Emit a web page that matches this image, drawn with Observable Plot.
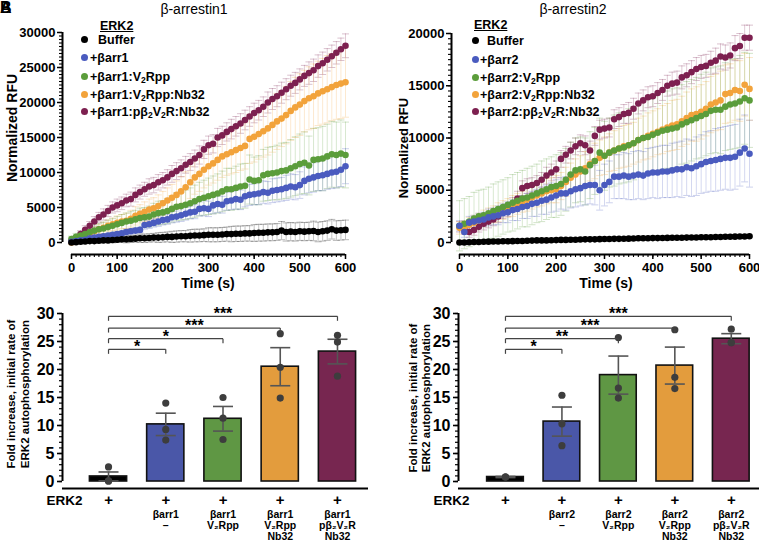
<!DOCTYPE html>
<html><head><meta charset="utf-8">
<script src="https://cdn.jsdelivr.net/npm/d3@7"></script>
<script src="https://cdn.jsdelivr.net/npm/@observablehq/plot@0.6"></script>
<style>
body{margin:0;background:#fff;}
#fig{position:relative;width:759px;height:542px;overflow:hidden;font-family:"Liberation Sans",Arial,sans-serif;color:#000;background:#fff;}
.abs{position:absolute;white-space:nowrap;}
.leg{position:absolute;font-weight:bold;font-size:12.5px;line-height:14px;white-space:nowrap;transform:translateY(-50%);}
.leg .d{display:inline-block;width:7px;height:7px;border-radius:50%;margin-right:3px;vertical-align:1px;}
.leg sub, .abs sub{font-size:8.5px;vertical-align:-2px;line-height:0;}
.rot{position:absolute;white-space:nowrap;font-weight:bold;text-align:center;transform:translate(-50%,-50%) rotate(-90deg);}
</style>
</head><body>
<div id="fig"></div>
<script>
// ---------- time axis (s) ----------
const times = [0,10,20,30,40,50,60,70,80,90,100,110,120,130,140,150,160,170,180,190,200,210,220,230,240,250,260,270,280,290,300,310,320,330,340,350,360,370,380,390,400,410,420,430,440,450,460,470,480,490,500,510,520,530,540,550,560,570,580,590,600];

const seriesNames = ["Buffer","barr","barr:V2Rpp","barr:V2Rpp:Nb32","barr:pb2V2R:Nb32"];
const seriesColors = ["#000000","#4a5bbf","#5b9d3b","#f2a33b","#7d2050"];

// ---------- β-arrestin1 time courses (thousand RFU) ----------
const a1Buffer = [0.0,0.05,0.1,0.15,0.2,0.2,0.25,0.3,0.3,0.35, 0.4,0.45,0.45,0.5,0.55,0.6,0.6,0.65,0.7,0.7, 0.75,0.8,0.8,0.85,0.9,0.9,0.95,1.0,1.0,1.05, 1.1,1.1,1.1,1.15,1.2,1.2,1.25,1.25,1.3,1.3, 1.35,1.4,1.4,1.45,1.45,1.5,1.7,1.5,1.55,1.5, 1.6,1.55,1.6,1.65,1.5,1.6,1.7,1.9,1.7,1.75, 1.8];
const a1Barr = [0.1,0.2,0.3,0.4,0.6,0.7,0.8,0.9,1.0,1.1, 1.2,1.3,1.5,1.6,1.7,1.8,2.5,2.6,2.8,3.0, 3.2,3.3,3.6,3.7,3.9,4.1,4.3,4.4,4.8,4.9, 4.8,5.3,5.5,5.4,5.9,6.0,6.2,6.1,6.6,6.8, 6.9,7.0,7.2,7.1,7.4,7.5,7.6,7.8,8.0,7.9, 8.2,8.8,9.1,9.3,9.5,9.6,9.8,10.0,10.1,10.4, 10.9];
const a1V2Rpp = [0.5,0.8,1.0,1.2,1.5,1.7,1.9,2.0,2.2,2.4, 2.6,2.8,3.0,3.1,3.3,3.5,3.6,3.7,4.0,4.2, 4.3,4.5,4.8,5.1,5.2,5.4,5.6,5.9,6.2,6.4, 6.6,6.8,7.0,7.3,7.6,7.6,7.8,8.0,8.1,9.0, 8.8,8.9,9.6,9.8,9.9,10.0,10.2,10.3,10.6,10.9, 11.2,11.4,11.0,11.8,11.9,12.0,12.3,12.6,12.5,12.7, 12.5];
const a1Nb32 = [0.0,0.3,0.6,1.0,1.3,1.6,1.9,2.1,2.4,2.6, 2.8,3.0,3.1,3.4,3.8,4.1,4.4,4.7,4.9,5.2, 5.6,6.0,6.4,6.8,7.3,7.9,8.6,9.3,9.8,10.4, 10.9,11.3,11.8,12.3,12.6,12.9,13.2,13.5,13.8,14.8, 15.1,15.5,15.9,16.3,16.8,17.3,17.7,18.2,18.8,19.3, 19.7,20.2,20.6,20.9,21.3,21.6,21.9,22.2,22.5,22.7, 22.9];
const a1Pb2 = [0.2,0.6,1.2,1.8,2.4,3.0,3.6,4.0,4.5,5.0, 5.3,5.6,6.0,6.2,6.8,7.2,7.6,8.0,8.2,8.6, 8.9,9.3,9.8,10.2,10.6,11.1,11.5,12.0,12.5,13.3, 13.9,14.1,15.0,15.3,15.8,16.2,16.6,17.0,17.5,18.0, 18.5,18.9,19.4,20.0,20.5,20.9,21.4,21.9,22.4,22.8, 23.3,23.8,24.2,24.6,25.2,25.6,26.1,26.6,27.1,27.6, 28.1];
const a1BufferErr = [0.1,0.1,0.1,0.2,0.2,0.2,0.3,0.3,0.3,0.4, 0.4,0.4,0.5,0.5,0.5,0.6,0.6,0.6,0.6,0.7, 0.7,0.7,0.8,0.8,0.8,0.8,0.9,0.9,0.9,0.9, 1.0,1.0,1.0,1.0,1.0,1.1,1.1,1.1,1.1,1.1, 1.2,1.2,1.2,1.2,1.2,1.2,1.3,1.3,1.3,1.3, 1.3,1.3,1.3,1.4,1.4,1.4,1.4,1.4,1.4,1.4, 1.4];
const a1BarrErr = [0.1,0.1,0.1,0.2,0.2,0.2,0.2,0.3,0.3,0.3, 0.3,0.3,0.4,0.4,0.4,0.4,0.6,0.6,0.6,0.7, 0.7,0.7,0.8,0.8,0.9,0.9,0.9,1.0,1.0,1.1, 1.1,1.2,1.2,1.2,1.3,1.3,1.4,1.4,1.5,1.5, 1.5,1.6,1.6,1.6,1.7,1.7,1.7,1.8,1.8,1.8, 1.9,2.0,2.0,2.1,2.1,2.2,2.2,2.3,2.3,2.4, 2.5];
const a1V2RppErr = [0.4,0.5,0.5,0.6,0.7,0.8,0.8,0.9,1.0,1.0, 1.1,1.2,1.2,1.3,1.3,1.4,1.4,1.5,1.6,1.7, 1.7,1.8,1.9,2.0,2.0,2.1,2.2,2.3,2.4,2.5, 2.6,2.7,2.8,2.9,3.0,3.0,3.1,3.2,3.2,3.5, 3.4,3.5,3.7,3.8,3.8,3.9,4.0,4.0,4.1,4.2, 4.3,4.4,4.2,4.5,4.5,4.6,4.6,4.7,4.7,4.8, 4.7];
const a1Nb32Err = [0.1,0.2,0.3,0.4,0.5,0.6,0.7,0.8,0.8,0.9, 1.0,1.0,1.1,1.2,1.3,1.3,1.4,1.5,1.5,1.6, 1.7,1.8,1.9,2.0,2.1,2.2,2.3,2.4,2.5,2.6, 2.7,2.8,2.9,3.0,3.0,3.1,3.2,3.2,3.3,3.5, 3.6,3.6,3.7,3.8,3.9,4.0,4.0,4.1,4.2,4.3, 4.4,4.4,4.5,4.6,4.6,4.7,4.8,4.8,4.9,5.0, 5.0];
const a1Pb2Err = [0.3,0.4,0.5,0.6,0.6,0.7,0.7,0.8,0.8,0.8, 0.9,0.9,0.9,1.0,1.0,1.0,1.0,1.1,1.1,1.1, 1.1,1.1,1.2,1.2,1.2,1.2,1.2,1.2,1.3,1.3, 1.3,1.3,1.3,1.3,1.3,1.4,1.4,1.4,1.4,1.4, 1.4,1.4,1.4,1.5,1.5,1.5,1.5,1.5,1.5,1.5, 1.5,1.5,1.6,1.6,1.6,1.6,1.6,1.6,1.6,1.6, 1.7];

// ---------- β-arrestin2 time courses (thousand RFU) ----------
const a2Buffer = [0.0,0.0,0.02,0.05,0.05,0.07,0.08,0.1,0.1,0.12, 0.12,0.13,0.15,0.15,0.17,0.18,0.2,0.2,0.2,0.22, 0.23,0.25,0.25,0.26,0.27,0.28,0.3,0.3,0.3,0.32, 0.33,0.33,0.35,0.35,0.36,0.37,0.38,0.4,0.4,0.4, 0.42,0.42,0.43,0.44,0.45,0.45,0.46,0.47,0.48,0.48, 0.5,0.5,0.5,0.52,0.53,0.55,0.55,0.56,0.57,0.58, 0.6];
const a2Barr = [1.6,1.0,1.9,2.0,2.1,2.2,2.4,2.5,2.6,2.8, 2.9,3.1,3.2,3.4,3.5,3.7,3.8,4.0,4.1,4.3, 4.5,4.7,4.7,4.9,5.1,5.2,5.4,5.5,5.5,5.0, 5.5,5.8,6.3,6.3,6.4,6.3,6.4,6.5,6.4,6.6, 6.7,6.7,6.8,6.8,6.9,7.0,7.0,7.2,7.1,7.3, 7.5,7.7,7.8,7.9,8.0,8.1,8.1,8.2,8.6,9.0, 8.5];
const a2V2Rpp = [1.6,1.8,2.0,2.3,2.5,2.6,2.8,3.0,3.2,3.4, 3.6,3.8,4.0,4.2,4.3,4.5,4.7,4.9,5.1,5.3, 5.4,5.6,6.0,6.5,6.9,7.0,6.8,7.4,7.8,8.6, 8.3,8.6,8.8,9.0,9.1,9.3,9.5,9.8,10.0,10.1, 10.3,10.5,10.7,10.8,10.9,11.0,11.3,11.5,11.7,11.9, 12.1,12.3,12.6,12.7,12.7,13.0,13.2,13.3,13.5,13.8, 13.6];
const a2Nb32 = [1.4,1.5,1.7,1.9,2.1,2.3,2.5,2.7,2.9,3.1, 3.3,3.5,3.7,3.9,4.1,4.3,4.5,4.7,4.9,5.0, 5.1,5.4,5.8,6.2,6.5,6.8,7.1,7.5,7.8,8.1, 8.3,8.6,8.8,9.0,9.2,9.3,9.5,9.8,10.0,10.2, 10.4,10.6,10.8,11.0,11.2,11.3,11.6,11.9,12.2,12.3, 12.5,12.8,13.2,13.4,13.6,14.2,14.3,14.6,14.5,15.1, 14.7];
const a2Pb2 = [1.5,1.3,1.0,1.2,1.5,1.8,2.0,2.2,2.5,2.9, 3.1,3.6,4.2,5.2,5.4,5.5,5.7,6.0,6.4,6.7, 7.0,8.0,8.4,8.8,9.2,9.5,9.3,8.8,10.2,10.8, 10.9,11.0,11.8,12.0,12.3,12.4,12.8,13.3,13.6,13.9, 14.0,14.3,14.6,15.0,15.2,15.3,15.8,16.0,16.3,16.6, 16.8,16.9,17.2,17.4,17.8,17.7,17.9,18.6,18.8,19.6, 19.6];
const a2BufferErr = [0.05,0.05,0.05,0.05,0.05,0.05,0.05,0.05,0.05,0.05, 0.06,0.06,0.06,0.06,0.06,0.06,0.06,0.06,0.06,0.06, 0.07,0.07,0.07,0.07,0.07,0.07,0.07,0.07,0.07,0.07, 0.08,0.08,0.08,0.08,0.08,0.08,0.08,0.08,0.08,0.08, 0.09,0.09,0.09,0.09,0.09,0.09,0.09,0.09,0.09,0.09, 0.1,0.1,0.1,0.1,0.1,0.1,0.1,0.1,0.1,0.1, 0.1];
const a2BarrErr = [0.5,0.5,0.6,0.6,0.7,0.7,0.8,0.8,0.9,0.9, 1.0,1.0,1.1,1.1,1.2,1.2,1.3,1.3,1.4,1.4, 1.5,1.5,1.6,1.6,1.7,1.7,1.8,1.8,1.9,1.9, 2.0,2.0,2.1,2.1,2.2,2.2,2.3,2.3,2.3,2.4, 2.4,2.5,2.5,2.5,2.6,2.6,2.7,2.7,2.7,2.8, 2.8,2.9,2.9,3.0,3.0,3.0,3.1,3.1,3.2,3.2, 3.2];
const a2V2RppErr = [2.4,2.4,2.4,2.5,2.5,2.5,2.5,2.6,2.6,2.6, 2.6,2.7,2.7,2.7,2.8,2.8,2.8,2.9,2.9,2.9, 3.0,3.0,3.0,3.1,3.1,3.1,3.2,3.2,3.2,3.3, 3.3,3.3,3.4,3.4,3.4,3.5,3.5,3.5,3.6,3.6, 3.6,3.7,3.7,3.7,3.8,3.8,3.8,3.9,3.9,3.9, 4.0,4.0,4.1,4.1,4.2,4.2,4.3,4.3,4.4,4.4, 4.5];
const a2Nb32Err = [0.6,0.6,0.7,0.7,0.7,0.8,0.8,0.8,0.9,0.9, 0.9,1.0,1.0,1.0,1.1,1.1,1.1,1.2,1.2,1.2, 1.3,1.3,1.4,1.4,1.5,1.5,1.6,1.6,1.7,1.7, 1.8,1.8,1.9,1.9,2.0,2.0,2.0,2.1,2.1,2.2, 2.2,2.2,2.3,2.3,2.4,2.4,2.4,2.5,2.5,2.6, 2.6,2.6,2.7,2.7,2.8,2.8,2.8,2.9,2.9,3.0, 3.0];
const a2Pb2Err = [0.5,0.5,0.5,0.5,0.5,0.6,0.6,0.6,0.6,0.6, 0.6,0.7,0.7,0.7,0.7,0.7,0.7,0.7,0.8,0.8, 0.8,0.8,0.8,0.8,0.8,0.8,0.9,0.9,0.9,0.9, 0.9,0.9,0.9,0.9,0.9,1.0,1.0,1.0,1.0,1.0, 1.0,1.0,1.0,1.0,1.1,1.1,1.1,1.1,1.1,1.1, 1.1,1.1,1.1,1.2,1.2,1.2,1.2,1.2,1.2,1.2, 1.2];

// ---------- tick values ----------
const timeMajorTicks = [0,100,200,300,400,500,600];
const timeMinorTicks = times;
const rfu1MajorTicks = [0,5000,10000,15000,20000,25000,30000];
const rfu2MajorTicks = [0,5000,10000,15000,20000];
const rfu1MinorTicks = d3.range(0, 30001, 500);
const rfu2MinorTicks = d3.range(0, 20001, 500);
const foldMajorTicks = [0,5,10,15,20,25,30];
const foldMinorTicks = d3.range(0, 31, 1);

// ---------- bar charts (fold increase) ----------
const barColors = ["#000000","#4a57a8","#5f9744","#e39c3d","#772650"];
const erk2Row = ["+","+","+","+","+"];
const b1SubLabels = ["", "βarr1\n–", "βarr1\nV₂Rpp", "βarr1\nV₂Rpp\nNb32", "βarr1\npβ₂V₂R\nNb32"];
const b2SubLabels = ["", "βarr2\n–", "βarr2\nV₂Rpp", "βarr2\nV₂Rpp\nNb32", "βarr2\npβ₂V₂R\nNb32"];
const b1Means = [0.9, 10.2, 11.2, 20.5, 23.2];
const b1Sems  = [0.8, 2.0, 2.2, 3.4, 2.2];
const b1Dots  = [[2.6,0.1,0.1],[14.0,9.3,7.4],[15.0,11.3,7.5],[26.4,20.4,14.9],[26.1,24.9,18.8]];
const b2Means = [0.8, 10.7, 19.0, 20.7, 25.5];
const b2Sems  = [0.1, 2.6, 3.4, 3.3, 0.9];
const b2Dots  = [[0.8,0.8,0.8],[15.4,10.3,6.4],[25.7,16.7,14.9],[27.1,18.6,16.6],[27.2,24.8,24.8]];
const b1SigTo = [1,2,3,4], b1SigLevel = [23.6,25.5,27.4,29.5], b1SigText = ["*","*","***","***"];
const b2SigTo = [1,2,3,4], b2SigLevel = [23.6,25.5,27.4,29.5], b2SigText = ["*","**","***","***"];

// ---------- legends / titles ----------
const legend1 = ["Buffer","+βarr1","+βarr1:V<sub>2</sub>Rpp","+βarr1:V<sub>2</sub>Rpp:Nb32","+βarr1:pβ<sub>2</sub>V<sub>2</sub>R:Nb32"];
const legend2 = ["Buffer","+βarr2","+βarr2:V<sub>2</sub>Rpp","+βarr2:V<sub>2</sub>Rpp:Nb32","+βarr2:pβ<sub>2</sub>V<sub>2</sub>R:Nb32"];

// ================= build =================
const fig = document.getElementById("fig");
const FONT = "Liberation Sans, Arial, Helvetica, sans-serif";
const capSym = {draw(c){ c.moveTo(-3.5,0); c.lineTo(3.5,0); }};
const barCapSym = {draw(c){ c.moveTo(-10,0); c.lineTo(10,0); }};
const tickDownSym = {draw(c){ c.moveTo(0,0); c.lineTo(0,4.5); }};
const plain = d3.format("d");

function series(vals, errs, name){
  return vals.map((v,k)=>({t: times[k], series: name, v: v*1000, lo: (v-errs[k])*1000, hi: (v+errs[k])*1000}));
}
// drawing order: top-most last
function courseTable(S){
  return [].concat(
    series(S[4][0],S[4][1],seriesNames[4]),
    series(S[3][0],S[3][1],seriesNames[3]),
    series(S[2][0],S[2][1],seriesNames[2]),
    series(S[1][0],S[1][1],seriesNames[1]),
    series(S[0][0],S[0][1],seriesNames[0]));
}
const tab1 = courseTable([[a1Buffer,a1BufferErr],[a1Barr,a1BarrErr],[a1V2Rpp,a1V2RppErr],[a1Nb32,a1Nb32Err],[a1Pb2,a1Pb2Err]]);
const tab2 = courseTable([[a2Buffer,a2BufferErr],[a2Barr,a2BarrErr],[a2V2Rpp,a2V2RppErr],[a2Nb32,a2Nb32Err],[a2Pb2,a2Pb2Err]]);

function place(node, left, top){
  node.style.position = "absolute"; node.style.left = left+"px"; node.style.top = top+"px";
  node.style.overflow = "visible";
  fig.appendChild(node);
}

function timePlot(o){
  const xDom = [0,600];
  return Plot.plot({
    width: o.width, height: 300,
    marginLeft: o.mL, marginRight: o.mR, marginTop: o.mT, marginBottom: 46,
    style: {background: "transparent", fontFamily: FONT, overflow: "visible"},
    x: {domain: xDom, insetLeft: o.insL},
    y: {domain: o.yDom, insetBottom: 12},
    color: {domain: seriesNames, range: seriesColors},
    marks: [
      Plot.ruleX(o.data, {x: "t", y1: "lo", y2: "hi", stroke: "series", strokeOpacity: 0.3, strokeWidth: 0.8}),
      Plot.dot(o.data, {x: "t", y: "hi", symbol: capSym, fill: "none", stroke: "series", strokeOpacity: 0.35, strokeWidth: 0.8}),
      Plot.dot(o.data, {x: "t", y: "lo", symbol: capSym, fill: "none", stroke: "series", strokeOpacity: 0.35, strokeWidth: 0.8}),
      Plot.dot(o.data, {x: "t", y: "v", fill: "series", r: 3.3}),
      Plot.ruleX([xDom[0]], {y1: o.yDom[0], y2: o.yDom[1], dx: -o.insL, strokeWidth: 2}),
      Plot.ruleY([o.yDom[0]], {x1: xDom[0], x2: xDom[1], dy: 12, strokeWidth: 2}),
      Plot.axisY({ticks: o.yMinor, tickSize: 3, tickFormat: () => "", strokeWidth: 1.1, label: null}),
      Plot.axisY({ticks: o.yMajor, tickSize: 5, tickPadding: 2, tickFormat: plain, fontSize: 13, fontWeight: "bold", strokeWidth: 1.5, label: null}),
      Plot.axisX({ticks: timeMinorTicks, tickSize: 3, tickFormat: () => "", strokeWidth: 1.1, label: null}),
      Plot.axisX({ticks: timeMajorTicks, tickSize: 5, tickPadding: 3, tickFormat: plain, fontSize: 13, fontWeight: "bold", strokeWidth: 1.5, label: null})
    ]
  });
}

function barPlot(o){
  const bars = o.means.map((m,i)=>({i, mean: m, sem: o.sems[i], color: barColors[i], sub: o.sub[i], plus: erk2Row[i]}));
  const pts = o.dots.flatMap((arr,i)=>arr.map(v=>({i, v})));
  const sig = o.sigTo.map((to,k)=>({from: 0, to, level: o.sigLevel[k], label: o.sigText[k]}));
  const half = 0.325;
  return Plot.plot({
    width: o.width, height: 242,
    marginLeft: o.mL, marginRight: o.mR, marginTop: 13, marginBottom: 61,
    style: {background: "transparent", fontFamily: FONT, overflow: "visible"},
    x: {domain: [-0.5, 4.5], insetLeft: o.insL, insetRight: o.insR, axis: null},
    y: {domain: [0, 30]},
    color: {type: "identity"},
    marks: [
      Plot.rectY(bars, {x1: d => d.i - half, x2: d => d.i + half, y1: 0, y2: "mean", fill: "color", stroke: "#111", strokeWidth: 1.6}),
      Plot.ruleX(bars, {x: "i", y1: d => d.mean - d.sem, y2: d => d.mean + d.sem, stroke: "#555", strokeWidth: 1.6}),
      Plot.dot(bars, {x: "i", y: d => d.mean + d.sem, symbol: barCapSym, fill: "none", stroke: "#555", strokeWidth: 1.6}),
      Plot.dot(bars, {x: "i", y: d => d.mean - d.sem, symbol: barCapSym, fill: "none", stroke: "#555", strokeWidth: 1.6}),
      Plot.dot(pts, {x: "i", y: "v", fill: "#3d3d3d", r: 3.6}),
      Plot.link(sig, {x1: "from", x2: "to", y1: "level", y2: "level", stroke: "#444", strokeWidth: 1.2}),
      Plot.dot(sig, {x: "from", y: "level", symbol: tickDownSym, fill: "none", stroke: "#444", strokeWidth: 1.2}),
      Plot.dot(sig, {x: "to", y: "level", symbol: tickDownSym, fill: "none", stroke: "#444", strokeWidth: 1.2}),
      Plot.text(sig, {x: d => (d.from + d.to) / 2, y: "level", text: "label", lineAnchor: "bottom", dy: 3, fontSize: 16, fontWeight: "bold"}),
      Plot.ruleX([-0.5], {y1: 0, y2: 30, dx: -o.insL, strokeWidth: 2}),
      Plot.ruleY([0], {dy: 7, strokeWidth: 2}),
      Plot.axisY({ticks: foldMinorTicks, tickSize: 3, tickFormat: () => "", strokeWidth: 1.2, label: null}),
      Plot.axisY({ticks: foldMajorTicks, tickSize: 5, tickPadding: 3, tickFormat: plain, fontSize: 16, fontWeight: "bold", strokeWidth: 1.6, label: null}),
      Plot.text(bars, {x: "i", frameAnchor: "bottom", text: "plus", dy: 19, lineAnchor: "middle", fontSize: 15, fontWeight: "bold"}),
      Plot.text(bars, {x: "i", frameAnchor: "bottom", text: "sub", dy: 28, lineAnchor: "top", fontSize: 10.5, fontWeight: "bold", lineHeight: 1.08}),
      Plot.text(["ERK2"], {frameAnchor: "bottom-left", dx: o.erkDx, dy: 19, textAnchor: "end", lineAnchor: "middle", fontSize: 13.5, fontWeight: "bold"})
    ]
  });
}

place(timePlot({data: tab1, width: 370, mL: 62, mR: 25, mT: 32, insL: 9, yDom: [0,30000], yMajor: rfu1MajorTicks, yMinor: rfu1MinorTicks}), 0, 0);
place(timePlot({data: tab2, width: 379, mL: 71, mR: 10, mT: 33, insL: 8, yDom: [0,20000], yMajor: rfu2MajorTicks, yMinor: rfu2MinorTicks}), 380, 0);
place(barPlot({means: b1Means, sems: b1Sems, dots: b1Dots, sub: b1SubLabels, sigTo: b1SigTo, sigLevel: b1SigLevel, sigText: b1SigText, width: 380, mL: 62, mR: 12, insL: 17.4, insR: 2.4, erkDx: 20}), 0, 300);
place(barPlot({means: b2Means, sems: b2Sems, dots: b2Dots, sub: b2SubLabels, sigTo: b2SigTo, sigLevel: b2SigLevel, sigText: b2SigText, width: 379, mL: 78, mR: 0, insL: 18.75, insR: 0, erkDx: 11}), 380, 300);

// ---------- HTML text: titles, legends, axis titles ----------
function addText(html, left, top, style, cls){
  const d = document.createElement("div");
  d.className = cls || "abs";
  d.innerHTML = html;
  d.style.left = left + "px"; d.style.top = top + "px";
  Object.assign(d.style, style || {});
  fig.appendChild(d);
  return d;
}
addText("A", 0, 0, {fontWeight: "bold", fontSize: "16px", lineHeight: "16px"});
addText("B", 0, 0, {fontWeight: "bold", fontSize: "16px", lineHeight: "16px"});
addText("β-arrestin1", 194, 9, {fontSize: "14px", transform: "translate(-50%,-50%)"});
addText("β-arrestin2", 573, 9, {fontSize: "14px", transform: "translate(-50%,-50%)"});
addText("Time (s)", 208, 283, {fontSize: "14px", fontWeight: "bold", transform: "translate(-50%,-50%)"});
addText("Time (s)", 606, 283, {fontSize: "14px", fontWeight: "bold", transform: "translate(-50%,-50%)"});
addText("Normalized RFU", 12, 128, {fontSize: "14px"}, "rot");
addText("Normalized RFU", 403, 148, {fontSize: "13px"}, "rot");
addText("Fold increase, initial rate of<br>ERK2 autophosphorylation", 18, 394, {fontSize: "11.5px", lineHeight: "14px"}, "rot");
addText("Fold increase, initial rate of<br>ERK2 autophosphorylation", 420, 398, {fontSize: "11.5px", lineHeight: "13px"}, "rot");

function legend(labels, dotX, textX, bufX, ys, erkX, erkY){
  addText("ERK2", erkX, erkY, {fontWeight: "bold", fontSize: "12.5px", textDecoration: "underline", transform: "translateY(-50%)"});
  labels.forEach((lab, k) => {
    const d = document.createElement("div");
    d.className = "leg";
    d.style.left = (dotX - 3.5) + "px"; d.style.top = ys[k] + "px";
    const gap = (k === 0 ? bufX : textX) - (dotX + 3.5);
    d.innerHTML = `<span class="d" style="background:${seriesColors[k]};margin-right:${gap}px"></span>${lab}`;
    fig.appendChild(d);
  });
}
legend(legend1, 84, 90, 98, [40, 58, 77, 95, 112], 100, 26);
legend(legend2, 475, 480, 487, [41, 60, 78, 95, 112], 474, 25);
</script>
</body></html>
